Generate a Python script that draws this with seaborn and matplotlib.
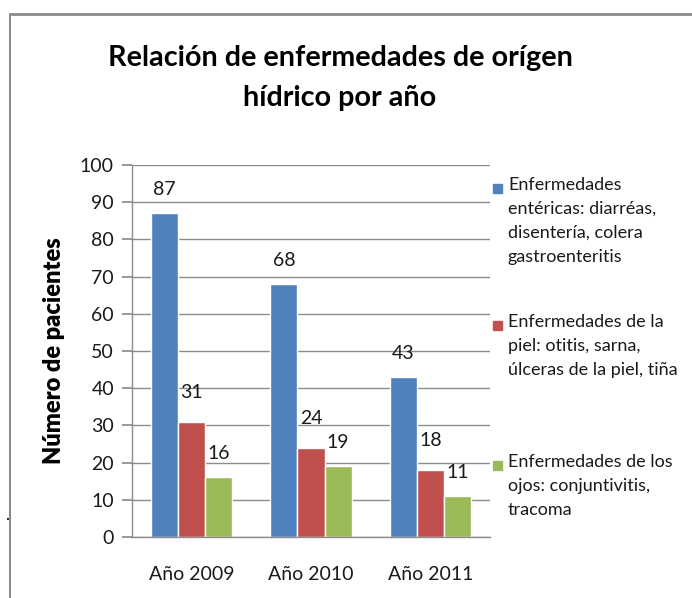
import pandas as pd
import matplotlib.pyplot as plt
import seaborn as sns
from matplotlib.lines import Line2D
from matplotlib.patches import Rectangle

sns.set_theme(style="white")
plt.rcParams["font.family"] = ["Lato", "DejaVu Sans"]

# ---------------------------------------------------------
# DATA
# ---------------------------------------------------------
years = ["Año 2009", "Año 2010", "Año 2011"]
series = [
    "Enfermedades\nentéricas: diarréas,\ndisentería, colera\ngastroenteritis",
    "Enfermedades de la\npiel: otitis, sarna,\núlceras de la piel, tiña",
    "Enfermedades de los\nojos: conjuntivitis,\ntracoma",
]
entericas = [87, 68, 43]
piel = [31, 24, 18]
ojos = [16, 19, 11]
colors = ["#4F81BD", "#C0504D", "#9BBB59"]

df = pd.DataFrame({
    "year": years * 3,
    "serie": [series[0]] * 3 + [series[1]] * 3 + [series[2]] * 3,
    "value": entericas + piel + ojos,
})

# ---------------------------------------------------------
# PLOT
# ---------------------------------------------------------
W, H = 692, 598
fig = plt.figure(figsize=(W / 100, H / 100), dpi=100)
ax = fig.add_axes([132 / W, 1 - 537 / H, (490 - 132) / W, (537 - 165) / H])

sns.barplot(data=df, x="year", y="value", hue="serie", palette=colors,
            width=0.68, gap=0, saturation=1, legend=False, ax=ax)

pads = [11, 15, 11]
for cont, pad in zip(ax.containers, pads):
    ax.bar_label(cont, padding=pad, fontsize=14, color="#1a1a1a")

ax.set_ylim(0, 100)
ax.set_xlim(-0.5, 2.5)
ax.set_yticks(range(0, 101, 10))
ax.yaxis.grid(True, color="#8c8c8c", linewidth=1)
ax.set_axisbelow(True)
for s in ["top", "right"]:
    ax.spines[s].set_visible(False)
for s in ["left", "bottom"]:
    ax.spines[s].set_color("#8c8c8c")
    ax.spines[s].set_linewidth(1)
ax.tick_params(axis="y", which="major", left=True, length=7, color="#8c8c8c",
               labelsize=14, pad=6, labelcolor="#1a1a1a")
ax.tick_params(axis="x", bottom=False, labelsize=14, pad=15, labelcolor="#1a1a1a")
ax.set_xlabel("")
ax.set_ylabel("Número de pacientes", fontsize=17, fontweight="heavy", color="black")
ax.yaxis.set_label_coords(-0.187, 0.5)

fig.text(340 / W, 1 - 78 / H, "Relación de enfermedades de orígen\nhídrico por año",
         ha="center", va="center", fontsize=20.7, fontweight="bold",
         linespacing=1.65, color="black")

# legend drawn by hand so the square sits next to the first line
leg_tops = [188, 325, 465]
for lab, col, yc in zip(series, colors, leg_tops):
    fig.add_artist(Rectangle((493 / W, 1 - (yc + 5) / H), 9 / W, 9 / H,
                             transform=fig.transFigure, color=col))
    fig.text(508 / W, 1 - (yc - 11) / H, lab, ha="left", va="top",
             fontsize=13, linespacing=1.62, color="#1a1a1a")

# outer frame of the original image
fig.add_artist(Line2D([10 / W, 1], [1 - 14 / H, 1 - 14 / H], color="#8c8c8c",
                      linewidth=2, transform=fig.transFigure))
fig.add_artist(Line2D([10 / W, 10 / W], [1 - 14 / H, 0], color="#8c8c8c",
                      linewidth=1.5, transform=fig.transFigure))
fig.text(5 / W, 1 - 515 / H, ".", fontsize=12, color="black", va="center")

fig.savefig("out.png", dpi=100)
